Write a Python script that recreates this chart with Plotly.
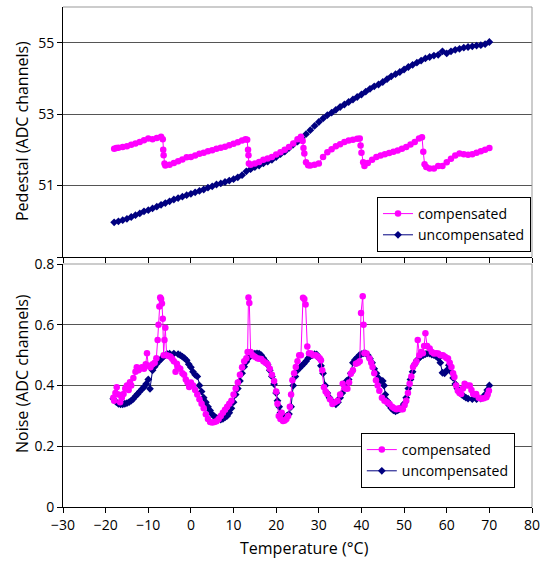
import plotly.graph_objects as go

# ---------------- Pedestal (top panel) ----------------
ped_unc_T = [-18, -17, -16, -15, -14, -13, -12, -11, -10, -9, -8, -7, -6, -5, -4, -3, -2, -1, 0, 1,
             2, 3, 4, 5, 6, 7, 8, 9, 10, 11, 12, 13, 14, 15, 16, 17, 18, 19, 20, 21,
             22, 23, 24, 25, 26, 27, 28, 29, 30, 31, 32, 33, 34, 35, 36, 37, 38, 39, 40, 41,
             42, 43, 44, 45, 46, 47, 48, 49, 50, 51, 52, 53, 54, 55, 56, 57, 58, 59, 60, 61,
             62, 63, 64, 65, 66, 67, 68, 69, 70]
ped_unc = [49.97, 50.00, 50.03, 50.07, 50.12, 50.17, 50.22, 50.28, 50.31, 50.36, 50.41, 50.46, 50.51, 50.56, 50.61, 50.65, 50.69, 50.73, 50.77, 50.81,
           50.85, 50.89, 50.94, 50.98, 51.03, 51.06, 51.10, 51.14, 51.18, 51.23, 51.29, 51.40, 51.46, 51.52, 51.56, 51.62, 51.67, 51.72, 51.80, 51.88,
           51.95, 52.05, 52.15, 52.23, 52.33, 52.44, 52.55, 52.67, 52.78, 52.88, 52.97, 53.04, 53.12, 53.20, 53.27, 53.34, 53.41, 53.48, 53.55, 53.63,
           53.71, 53.78, 53.83, 53.90, 53.98, 54.06, 54.12, 54.18, 54.25, 54.32, 54.38, 54.44, 54.50, 54.56, 54.60, 54.64, 54.66, 54.76, 54.70, 54.76,
           54.80, 54.83, 54.86, 54.88, 54.90, 54.92, 54.93, 54.96, 55.02]

ped_comp_T = [-18, -17.5, -17, -16, -15, -14, -13, -12, -11, -10, -9, -8, -7, -6.6, -6.5, -6.4, -6.2, -6, -5, -4,
              -3, -2, -1, 0, 1, 2, 3, 4, 5, 6, 7, 8, 9, 10, 11, 12, 12.8, 13.2, 13.4, 13.5,
              13.6, 14, 15, 16, 17, 18, 19, 20, 21, 22, 23, 24, 25, 25.8, 26.2, 26.4, 26.6, 27.0, 27.5, 28,
              29, 30, 31, 32, 33, 34, 35, 36, 37, 38, 39, 39.6, 39.8, 40.0, 40.4, 40.7, 41.5, 42.5, 43.5, 44.5,
              45.5, 46.5, 47.5, 48.5, 49.5, 50.5, 51.5, 52.5, 53.5, 54.2, 54.5, 54.8, 55.2, 56, 57, 58, 59, 60, 61, 62,
              63, 64, 65, 66, 67, 68, 69, 70]
ped_comp = [52.03, 52.05, 52.06, 52.08, 52.10, 52.14, 52.18, 52.22, 52.27, 52.32, 52.30, 52.33, 52.37, 52.30, 52.00, 51.85, 51.62, 51.56, 51.58, 51.63,
            51.68, 51.73, 51.79, 51.80, 51.84, 51.89, 51.92, 51.96, 51.99, 52.03, 52.06, 52.09, 52.13, 52.17, 52.21, 52.26, 52.30, 52.28, 52.00, 51.85,
            51.62, 51.58, 51.62, 51.66, 51.72, 51.76, 51.80, 51.87, 51.93, 52.00, 52.08, 52.18, 52.30, 52.37, 52.25, 52.05, 51.90, 51.65, 51.57, 51.56,
            51.58, 51.62, 51.80, 51.93, 52.02, 52.10, 52.16, 52.22, 52.26, 52.28, 52.31, 52.32, 52.12, 51.92, 51.65, 51.55, 51.63, 51.72, 51.80, 51.84,
            51.88, 51.91, 51.95, 51.98, 52.03, 52.08, 52.15, 52.22, 52.32, 52.35, 51.95, 51.60, 51.52, 51.48, 51.48, 51.55, 51.55, 51.65, 51.75, 51.84,
            51.90, 51.88, 51.86, 51.88, 51.92, 51.96, 52.00, 52.05]

# ---------------- Noise (bottom panel) ----------------
noise_unc_T = [-18.2, -17.5, -17, -16.5, -16, -15.5, -15, -14.5, -14, -13.5, -13, -12.5, -12, -11.5, -11, -10.5, -10, -9.6, -9, -8.5,
               -8, -7.5, -7, -6.5, -6, -5.5, -5, -4, -3, -2.5, -2, -1.5, -1, -0.5, 0, 0.5, 1, 1.5, 2, 2.5,
               3, 3.5, 4, 4.5, 5, 5.5, 6, 6.5, 7, 7.5, 8, 8.5, 9, 9.5, 10, 10.5, 11, 11.5, 12, 12.5,
               13, 13.5, 14, 14.5, 15, 15.5, 16, 16.5, 17, 17.5, 18, 18.5, 19, 19.5, 20, 20.3, 20.7, 21, 21.5, 22,
               22.5, 23, 23.5, 24, 24.5, 25, 25.5, 26, 26.5, 27, 27.5, 28, 28.5, 29, 29.5, 30, 30.5, 31, 31.5, 32,
               32.5, 33, 33.5, 34, 34.5, 35, 35.5, 36, 36.5, 37, 37.5, 38, 38.5, 39, 39.5, 40, 40.5, 41, 41.5, 42,
               42.5, 43, 43.5, 44, 44.5, 45, 45.3, 45.6, 46, 46.5, 47, 47.5, 48, 48.5, 49, 49.5, 50, 50.5, 51, 51.5,
               52, 52.5, 53, 53.5, 54, 54.5, 55, 55.5, 56, 56.5, 57, 57.5, 58, 58.5, 59, 59.5, 60, 60.5, 61, 61.5,
               62, 62.5, 63, 63.5, 64, 64.5, 65, 66, 67, 68, 68.5, 69, 69.5, 70]
noise_unc = [0.356, 0.345, 0.340, 0.338, 0.338, 0.340, 0.342, 0.345, 0.350, 0.356, 0.365, 0.372, 0.380, 0.388, 0.395, 0.405, 0.420, 0.389, 0.450, 0.462,
             0.472, 0.480, 0.487, 0.494, 0.500, 0.503, 0.505, 0.505, 0.503, 0.500, 0.495, 0.490, 0.483, 0.470, 0.460, 0.445, 0.435, 0.430, 0.400, 0.380,
             0.360, 0.345, 0.330, 0.318, 0.305, 0.298, 0.293, 0.290, 0.288, 0.290, 0.295, 0.300, 0.310, 0.325, 0.345, 0.370, 0.390, 0.415, 0.440, 0.462,
             0.478, 0.490, 0.500, 0.505, 0.505, 0.506, 0.505, 0.500, 0.490, 0.480, 0.468, 0.450, 0.430, 0.405, 0.375, 0.350, 0.330, 0.310, 0.300, 0.295,
             0.300, 0.306, 0.330, 0.400, 0.430, 0.450, 0.458, 0.465, 0.472, 0.480, 0.490, 0.497, 0.500, 0.503, 0.502, 0.490, 0.465, 0.440, 0.400, 0.375,
             0.360, 0.350, 0.342, 0.338, 0.345, 0.360, 0.375, 0.400, 0.415, 0.420, 0.440, 0.475, 0.485, 0.492, 0.500, 0.503, 0.506, 0.506, 0.500, 0.488,
             0.475, 0.455, 0.440, 0.425, 0.415, 0.415, 0.400, 0.370, 0.350, 0.335, 0.325, 0.318, 0.315, 0.318, 0.322, 0.330, 0.340, 0.360, 0.390, 0.420,
             0.445, 0.470, 0.483, 0.490, 0.497, 0.500, 0.503, 0.506, 0.505, 0.502, 0.500, 0.497, 0.490, 0.475, 0.442, 0.440, 0.450, 0.467, 0.445, 0.425,
             0.405, 0.390, 0.378, 0.370, 0.365, 0.360, 0.357, 0.355, 0.355, 0.357, 0.360, 0.370, 0.385, 0.400]

noise_comp_T = [-18.2, -18, -17.7, -17.4, -17, -16.6, -16.2, -15.8, -15.4, -15, -14.6, -14.3, -14, -13.5, -13, -12.7, -12.3, -12, -11.5, -11,
                -10.6, -10.3, -10, -9.5, -9, -8.5, -8.1, -7.8, -7.6, -7.4, -7.2, -7.0, -6.8, -6.6, -6.4, -6.2, -6.0, -5.7, -5.2, -4.8,
                -4.4, -4, -3.6, -3.3, -3, -2.5, -2, -1.6, -1.2, -0.8, -0.4, 0, 0.5, 1, 1.5, 2, 2.5, 3, 3.5, 4,
                4.5, 5, 5.5, 6, 6.5, 7, 7.5, 8, 8.5, 9, 9.5, 10, 10.5, 11, 11.5, 12, 12.5, 13, 13.3, 13.5,
                13.7, 14, 14.5, 15, 15.5, 16, 16.5, 17, 17.5, 18, 18.5, 19, 19.5, 20, 20.3, 20.6, 21, 21.3, 21.6, 22,
                22.4, 22.8, 23.2, 23.5, 23.8, 24.2, 24.6, 25, 25.4, 25.8, 26.3, 26.6, 26.9, 27.3, 27.7, 28.2, 28.7, 29.3, 29.8, 30.2,
                30.5, 30.8, 31.2, 31.6, 32, 32.6, 33.2, 33.8, 34.4, 35, 35.6, 36.2, 36.7, 37.1, 37.5, 38, 38.7, 39.2, 39.6, 39.9,
                40.3, 40.5, 40.7, 41.2, 41.9, 42.3, 42.6, 43, 43.4, 43.8, 44.2, 44.8, 45.4, 46, 46.6, 47.2, 47.7, 48.2, 48.8, 49.3,
                49.7, 50.1, 50.5, 50.9, 51.3, 51.7, 52.1, 52.5, 52.9, 53.2, 53.6, 54, 54.4, 54.7, 55.0, 55.4, 56.0, 56.5, 57, 57.5,
                58, 58.5, 59.1, 59.6, 60, 60.3, 60.7, 61.1, 61.5, 61.8, 62.2, 62.6, 63, 63.4, 63.8, 64.2, 64.8, 65.4, 65.8, 66.2,
                66.6, 66.9, 67.5, 68.1, 68.7, 69.3, 69.6, 69.9]
noise_comp = [0.360, 0.350, 0.375, 0.394, 0.370, 0.345, 0.360, 0.372, 0.390, 0.400, 0.385, 0.411, 0.400, 0.425, 0.445, 0.460, 0.450, 0.455, 0.460, 0.455,
              0.470, 0.506, 0.465, 0.460, 0.470, 0.475, 0.490, 0.550, 0.600, 0.660, 0.690, 0.685, 0.670, 0.620, 0.500, 0.550, 0.590, 0.500, 0.497, 0.495,
              0.488, 0.480, 0.445, 0.472, 0.460, 0.455, 0.440, 0.435, 0.420, 0.410, 0.395, 0.410, 0.400, 0.385, 0.370, 0.355, 0.340, 0.325, 0.305, 0.290,
              0.280, 0.278, 0.280, 0.282, 0.290, 0.300, 0.310, 0.320, 0.330, 0.340, 0.350, 0.370, 0.390, 0.410, 0.435, 0.460, 0.480, 0.490, 0.510, 0.690,
              0.672, 0.510, 0.500, 0.495, 0.490, 0.488, 0.487, 0.480, 0.475, 0.470, 0.455, 0.435, 0.415, 0.380, 0.340, 0.300, 0.290, 0.310, 0.283, 0.285,
              0.290, 0.300, 0.330, 0.370, 0.417, 0.440, 0.461, 0.480, 0.500, 0.500, 0.689, 0.685, 0.667, 0.528, 0.506, 0.505, 0.500, 0.500, 0.495, 0.490,
              0.483, 0.450, 0.394, 0.380, 0.372, 0.355, 0.339, 0.345, 0.350, 0.370, 0.406, 0.390, 0.389, 0.410, 0.439, 0.450, 0.472, 0.475, 0.480, 0.639,
              0.694, 0.600, 0.506, 0.505, 0.489, 0.475, 0.461, 0.440, 0.417, 0.400, 0.383, 0.360, 0.350, 0.345, 0.339, 0.330, 0.325, 0.322, 0.325, 0.322,
              0.322, 0.335, 0.350, 0.375, 0.406, 0.430, 0.461, 0.470, 0.480, 0.550, 0.500, 0.510, 0.506, 0.530, 0.572, 0.530, 0.522, 0.510, 0.505, 0.506,
              0.505, 0.500, 0.500, 0.495, 0.490, 0.489, 0.475, 0.461, 0.440, 0.428, 0.400, 0.383, 0.375, 0.372, 0.390, 0.406, 0.400, 0.400, 0.385, 0.372,
              0.370, 0.372, 0.360, 0.356, 0.358, 0.361, 0.370, 0.383]

x_ticks = [-30, -20, -10, 0, 10, 20, 30, 40, 50, 60, 70, 80]
ped_ticks = [49, 51, 53, 55]
ped_tick_text = ["", "51", "53", "55"]
noise_ticks = [0, 0.2, 0.4, 0.6, 0.8]
noise_tick_text = ["0", "0.2", "0.4", "0.6", "0.8"]

MAG = "#FF00FF"
NAVY = "#000080"
FONT = "Open Sans"

fig = go.Figure()

def add(x, y, name, color, symbol, size, xa, ya, leg, rank):
    fig.add_trace(go.Scatter(
        x=x, y=y, name=name, mode="lines+markers",
        line=dict(color=color, width=1),
        marker=dict(color=color, symbol=symbol, size=size, line=dict(width=0)),
        xaxis=xa, yaxis=ya, legend=leg, legendrank=rank))

add(ped_unc_T, ped_unc, "uncompensated", NAVY, "diamond", 6, "x", "y", "legend", 2)
add(ped_comp_T, ped_comp, "compensated", MAG, "circle", 6.5, "x", "y", "legend", 1)
add(noise_unc_T, noise_unc, "uncompensated", NAVY, "diamond", 6, "x2", "y2", "legend2", 2)
add(noise_comp_T, noise_comp, "compensated", MAG, "circle", 6.5, "x2", "y2", "legend2", 1)

axis_common = dict(showline=True, linecolor="black", linewidth=1, ticks="outside",
                   ticklen=5, tickcolor="black", zeroline=False, automargin=False,
                   tickfont=dict(family=FONT, size=14, color="black"))

fig.update_layout(
    width=543, height=561,
    margin=dict(l=63, r=11, t=7, b=54, autoexpand=False),
    paper_bgcolor="white", plot_bgcolor="white",
    font=dict(family=FONT, color="black"),
    xaxis=dict(domain=[0, 1], anchor="y", range=[-30, 80], tickvals=x_ticks,
               showticklabels=False, showgrid=False, **axis_common),
    yaxis=dict(domain=[0.5, 1], anchor="x", range=[49, 56], tickvals=ped_ticks,
               ticktext=ped_tick_text, showgrid=True, gridcolor="#555555", gridwidth=1,
               **axis_common),
    xaxis2=dict(domain=[0, 1], anchor="y2", range=[-30, 80], tickvals=x_ticks,
                showgrid=False, **axis_common),
    yaxis2=dict(domain=[0, 0.486], anchor="x2", range=[0, 0.8], tickvals=noise_ticks,
                ticktext=noise_tick_text, showgrid=True, gridcolor="#555555", gridwidth=1,
                **axis_common),
    legend=dict(x=0.6695, y=0.62, xanchor="left", yanchor="top", bgcolor="white",
                bordercolor="black", borderwidth=1, font=dict(family=FONT, size=14),
                itemsizing="trace", tracegroupgap=0),
    legend2=dict(x=0.635, y=0.148, xanchor="left", yanchor="top", bgcolor="white",
                 bordercolor="black", borderwidth=1, font=dict(family=FONT, size=14),
                 itemsizing="trace", tracegroupgap=0),
    showlegend=True,
)

# plot-area borders (top and right) in gray
for y0, y1 in [(0.5, 1.0), (0.0, 0.486)]:
    fig.add_shape(type="line", xref="paper", yref="paper", x0=0, x1=1, y0=y1, y1=y1,
                  line=dict(color="#999999", width=1))
    fig.add_shape(type="line", xref="paper", yref="paper", x0=1, x1=1, y0=y0, y1=y1,
                  line=dict(color="#999999", width=1))

fig.add_annotation(text="Pedestal (ADC channels)", xref="paper", yref="paper",
                   x=0, y=0.752, xshift=-41, textangle=-90, showarrow=False,
                   xanchor="center", yanchor="middle",
                   font=dict(family=FONT, size=16, color="black"))
fig.add_annotation(text="Noise (ADC channels)", xref="paper", yref="paper",
                   x=0, y=0.266, xshift=-41, textangle=-90, showarrow=False,
                   xanchor="center", yanchor="middle",
                   font=dict(family=FONT, size=16, color="black"))
fig.add_annotation(text="Temperature (°C)", xref="paper", yref="paper",
                   x=0.514, y=0, yshift=-41, showarrow=False,
                   xanchor="center", yanchor="middle",
                   font=dict(family=FONT, size=16, color="black"))

fig.write_html("out.html", config={"displayModeBar": False},
               post_script="document.body.style.margin='0';document.body.style.padding='0';")
